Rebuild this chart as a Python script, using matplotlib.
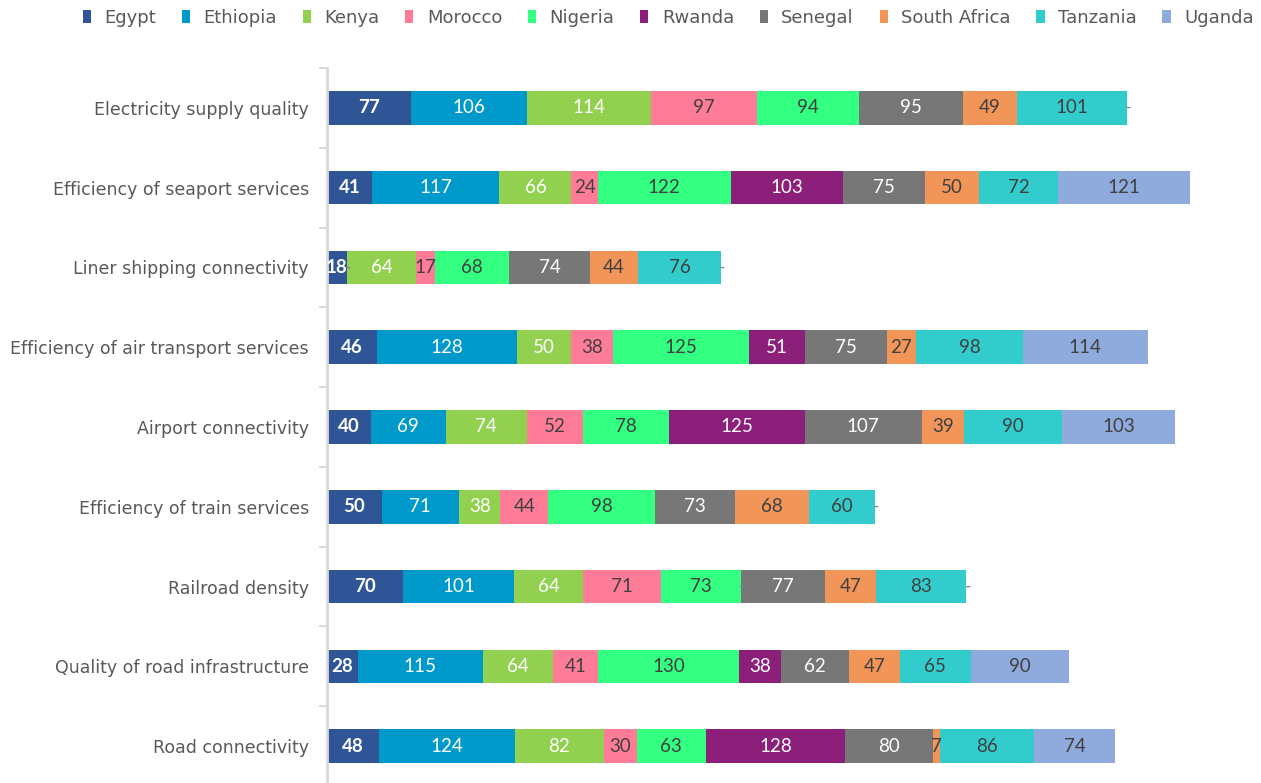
import numpy as np
import matplotlib
matplotlib.use("Agg")
import matplotlib.pyplot as plt
from matplotlib.patches import Patch

plt.rcParams['font.family'] = ['Lato', 'DejaVu Sans']

categories = [
    "Electricity supply quality",
    "Efficiency of seaport services",
    "Liner shipping connectivity",
    "Efficiency of air transport services",
    "Airport connectivity",
    "Efficiency of train services",
    "Railroad density",
    "Quality of road infrastructure",
    "Road connectivity",
]

countries = ["Egypt", "Ethiopia", "Kenya", "Morocco", "Nigeria",
             "Rwanda", "Senegal", "South Africa", "Tanzania", "Uganda"]

# None = no data (drawn as "-")
egypt        = [77, 41, 18, 46, 40, 50, 70, 28, 48]
ethiopia     = [106, 117, None, 128, 69, 71, 101, 115, 124]
kenya        = [114, 66, 64, 50, 74, 38, 64, 64, 82]
morocco      = [97, 24, 17, 38, 52, 44, 71, 41, 30]
nigeria      = [94, 122, 68, 125, 78, 98, 73, 130, 63]
rwanda       = [None, 103, None, 51, 125, None, None, 38, 128]
senegal      = [95, 75, 74, 75, 107, 73, 77, 62, 80]
south_africa = [49, 50, 44, 27, 39, 68, 47, 47, 7]
tanzania     = [101, 72, 76, 98, 90, 60, 83, 65, 86]
uganda       = [None, 121, None, 114, 103, None, None, 90, 74]

series = [egypt, ethiopia, kenya, morocco, nigeria,
          rwanda, senegal, south_africa, tanzania, uganda]

colors = ["#2F5597", "#0099CC", "#92D050", "#FF7C98", "#33FF80",
          "#8B1F7A", "#777777", "#F29559", "#33CCCC", "#8FAADC"]
label_colors = ["white", "white", "white", "#404040", "#404040",
                "white", "white", "#404040", "#404040", "#404040"]

fig = plt.figure(figsize=(12.61, 7.83), dpi=100)
ax = fig.add_axes([327 / 1261, -3 / 783, 934 / 1261, 718 / 783])

y = np.arange(len(categories))
left = np.zeros(len(categories))

for name, vals, col, lcol in zip(countries, series, colors, label_colors):
    v = np.array([0 if x is None else x for x in vals], dtype=float)
    ax.barh(y, v, left=left, height=0.42, color=col, label=name)
    for i, x in enumerate(vals):
        if x is None:
            ax.text(left[i] + 1.5, y[i], "-", ha="center", va="center",
                    fontsize=12.5, color="#808080")
        else:
            ax.text(left[i] + v[i] / 2, y[i], str(x), ha="center", va="center",
                    fontsize=13.5, color=lcol,
                    fontweight="bold" if name == "Egypt" else "normal")
    left += v

ax.set_xlim(0, 856)
ax.set_ylim(len(categories) - 0.5, -0.5)
ax.set_yticks(y)
ax.set_yticklabels(categories, fontsize=12.5, color="#595959",
                   family="DejaVu Sans")
ax.tick_params(axis="y", which="major", length=0, pad=13)
ax.set_yticks(np.arange(-0.5, len(categories), 1.0), minor=True)
ax.tick_params(axis="y", which="minor", length=6, width=1.5, color="#D9D9D9")
ax.set_xticks([])

for s in ["top", "right", "bottom"]:
    ax.spines[s].set_visible(False)
ax.spines["left"].set_color("#D9D9D9")
ax.spines["left"].set_linewidth(2)

handles = [Patch(facecolor=c, edgecolor="none") for c in colors]
fig.legend(handles, countries, loc="center", bbox_to_anchor=(0.53, 0.977),
           ncol=10, frameon=False, handlelength=0.45,
           handleheight=0.7, handletextpad=0.75, columnspacing=1.42,
           labelcolor="#595959",
           prop={"family": "DejaVu Sans", "size": 13})

fig.savefig("out.png", dpi=100)
